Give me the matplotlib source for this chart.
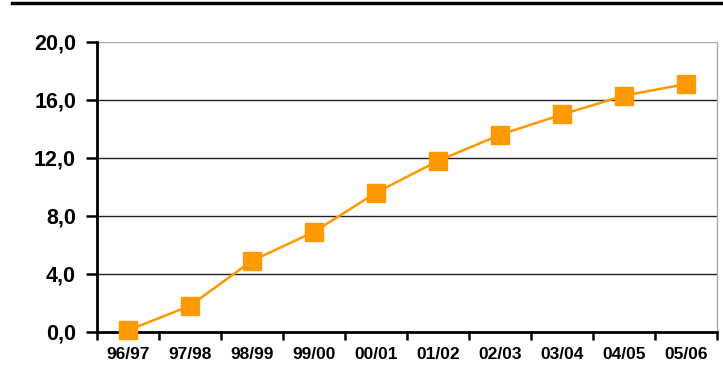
import matplotlib.pyplot as plt
from matplotlib.lines import Line2D

# dados
anos = ['96/97', '97/98', '98/99', '99/00', '00/01', '01/02', '02/03', '03/04', '04/05', '05/06']
valores = [0.1, 1.8, 4.9, 6.9, 9.6, 11.8, 13.6, 15.0, 16.3, 17.1]
yticks = [0, 4, 8, 12, 16, 20]
ytick_labels = ['0,0', '4,0', '8,0', '12,0', '16,0', '20,0']

plt.rcParams['font.family'] = ['Liberation Sans', 'DejaVu Sans']

fig = plt.figure(figsize=(7.23, 3.85), dpi=100)
ax = fig.add_axes([0.134, 0.138, 0.858, 0.753])

x = list(range(len(anos)))
ax.plot(x, valores, color='#FF9900', lw=1.8, marker='s', markersize=12.5,
        markeredgecolor='#FF9900', clip_on=False, zorder=3)

ax.set_xlim(-0.5, len(anos) - 0.5)
ax.set_ylim(0, 20)
ax.set_yticks(yticks)
ax.set_yticklabels(ytick_labels, fontsize=15.5, fontweight='bold')
ax.set_xticks(x)
ax.set_xticklabels(anos, fontsize=12.5, fontweight='bold')
ax.tick_params(axis='x', length=0, pad=11)
ax.set_xticks([i - 0.5 for i in range(len(anos) + 1)], minor=True)
ax.tick_params(axis='x', which='minor', length=6, width=1.8, direction='out')
ax.tick_params(axis='y', length=8, width=1.8, direction='out', pad=7)

for v in yticks[1:-1]:
    ax.axhline(v, color='#222222', lw=1.0, zorder=1)
ax.axhline(20, color='#aaaaaa', lw=1.0, zorder=1)

ax.spines['left'].set_linewidth(2)
ax.spines['bottom'].set_linewidth(2)
ax.spines['top'].set_visible(False)
ax.spines['right'].set_color('#aaaaaa')
ax.spines['right'].set_linewidth(1.0)

# titulo (cortado no topo, como no original)
fig.text(0.017, 1.022, 'Gráfico 3 - Evolução do número de inscritos no Ensino Superior Privado (%)',
         fontsize=17, fontweight='bold', va='baseline', ha='left')
fig.add_artist(Line2D([0.017, 1.0], [0.992, 0.992], color='black', lw=2.5))

plt.savefig('out.png', dpi=100)
